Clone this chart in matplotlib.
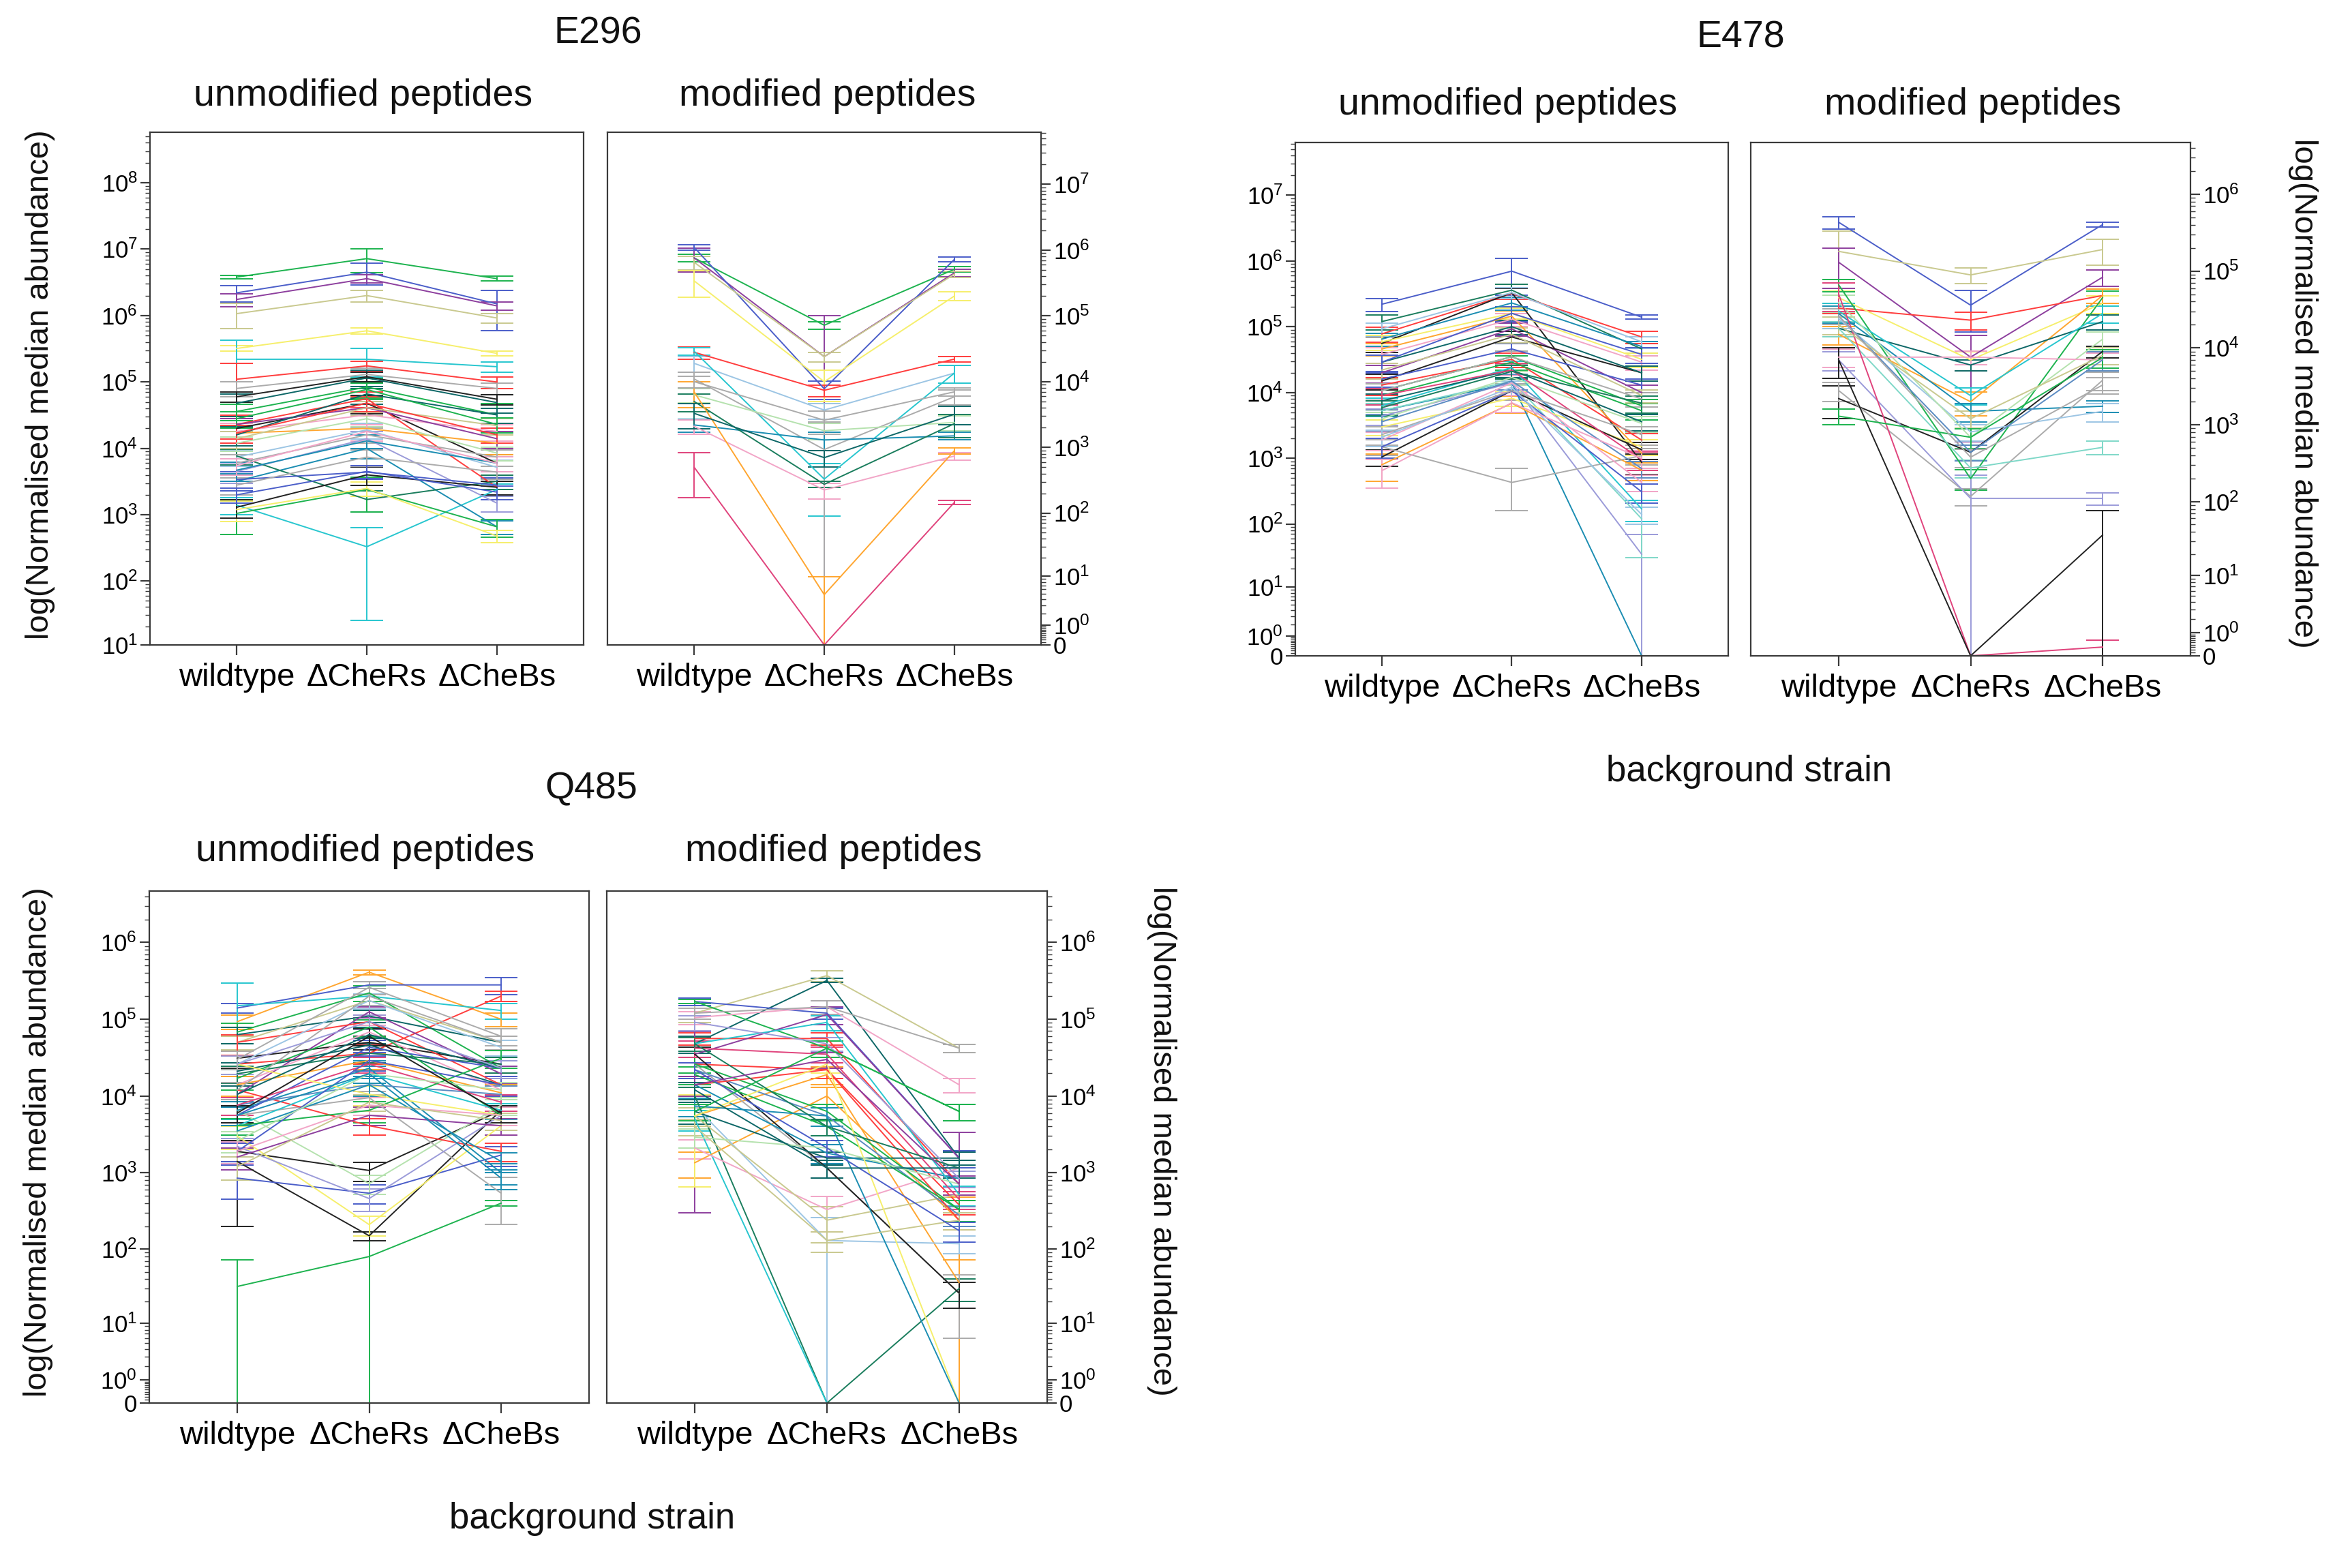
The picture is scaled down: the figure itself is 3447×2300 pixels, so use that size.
import numpy as np
import matplotlib
matplotlib.use('Agg')
import matplotlib.pyplot as plt
from matplotlib.ticker import FixedLocator, FixedFormatter, NullFormatter

plt.rcParams['font.family'] = ['Liberation Sans', 'DejaVu Sans']
plt.rcParams['mathtext.fontset'] = 'custom'
plt.rcParams['mathtext.rm'] = 'Liberation Sans'
plt.rcParams['mathtext.it'] = 'Liberation Sans:italic'
plt.rcParams['mathtext.bf'] = 'Liberation Sans:bold'

categories = ['wildtype', '\u0394CheRs', '\u0394CheBs']

palette = {
    'g': '#1db34f', 'b': '#4b5ec9', 'p': '#8d3f9e', 'o': '#c9c98f', 'y': '#f6ef6c',
    'c': '#27c6cf', 'r': '#ff3d3d', 'k': '#222222', 't': '#0d6767', 'G': '#ababab',
    'l': '#9cc5e4', 'O': '#ffa630', 'P': '#f2a5c7', 'd': '#1a7d5d', 'L': '#b5e2ae',
    'm': '#e0437c', 'T': '#1b8db2', 's': '#5b8bc2', 'v': '#9b9bd9', 'a': '#7fd8c8',
}

# ---------------- E296 unmodified ----------------
E296_unmod_col = "gbpoyccrGtgkrOPplvTdgybkGLotGTrgkbP"
E296_unmod_med = [
    (3.8e6, 7.2e6, 3.6e6), (2.2e6, 4.5e6, 1.5e6), (1.75e6, 3.6e6, 1.4e6), (1.07e6, 2.0e6, 9.2e5),
    (3.2e5, 5.9e5, 2.7e5), (2.2e5, 2.2e5, 1.7e5), (1.4e3, 330, 2.4e3), (1.1e5, 1.75e5, 1.0e5),
    (8e4, 1.3e5, 8e4), (4.8e4, 1.15e5, 4.9e4), (3.6e4, 8.4e4, 3.2e4), (2.0e4, 4.8e4, 6.0e3),
    (2.3e4, 5.6e4, 2.6e3), (1.7e4, 2.0e4, 1.2e4), (1.8e4, 3.2e4, 1.8e4), (2.3e4, 4.1e4, 1.4e4),
    (7.4e3, 1.9e4, 5.2e3), (4.5e3, 1.4e4, 1.5e3), (3.2e3, 1.0e4, 6.6e2), (7.7e3, 1.7e3, 3.2e3),
    (1.05e3, 2.4e3, 6.6e2), (1.2e3, 2.5e3, 4.8e2), (3.4e3, 4.4e3, 2.8e3), (1.3e3, 4.0e3, 2.6e3),
    (2.8e3, 7.4e3, 4.4e3), (1.2e4, 2.8e4, 8.5e3), (1.4e4, 4.1e4, 2.2e4), (1.6e4, 6.6e4, 3.2e4),
    (6e3, 1.6e4, 7.4e3), (4.7e3, 1.3e4, 6e3), (1.7e4, 4.8e4, 1.6e4), (2.8e4, 7.7e4, 2.3e4),
    (6e4, 1.2e5, 5.5e4), (2.0e3, 4.5e3, 2.2e3), (5.5e3, 1.8e4, 6e3),
]
E296_unmod_sd = [
    (2.5e5, 2.8e6, 3e5), (6e5, 1.6e6, 9e5), (4e5, 5e5, 2e5), (4.4e5, 4e5, 1.5e5),
    (3e4, 6e4, 2e4), (2.1e5, 1.0e5, 3e4), (4e2, 305, 5e2), (8e4, 3e4, 2e4),
    (2e4, 3e4, 1.5e4), (1.8e4, 3.5e4, 1.5e4), (1e4, 3e4, 1.5e4), (8e3, 1.5e4, 2e3),
    (9e3, 1.5e4, 6e2), (5e3, 4e3, 4e3), (6e3, 8e3, 5e3), (5e3, 1e4, 4e3),
    (2e3, 5e3, 1.5e3), (1.5e3, 4e3, 4e2), (9e2, 3e3, 1.5e2), (2e3, 6e2, 8e2),
    (5.5e2, 1.3e3, 2e2), (4e2, 6e2, 1e2), (1.1e3, 1e3, 8e2), (4e2, 1.2e3, 6e2),
    (8e2, 2e3, 1e3), (3e3, 7e3, 2e3), (4e3, 1e4, 6e3), (5e3, 2e4, 8e3),
    (2e3, 4e3, 2e3), (1.5e3, 3e3, 1.5e3), (5e3, 1.2e4, 4e3), (8e3, 2e4, 6e3),
    (1e4, 2e4, 1e4), (5e2, 1e3, 5e2), (1.5e3, 5e3, 1.5e3),
]

# ---------------- E296 modified ----------------
E296_mod_col = "gpboyrlcGLTdPOmGt"
E296_mod_med = [
    (7.6e5, 7.2e4, 5.1e5), (7.6e5, 2.4e4, 4.5e5), (1.1e6, 7.8e3, 7.2e5), (6.5e5, 2.4e4, 4.3e5),
    (3.4e5, 1.0e4, 2.0e5), (2.8e4, 7.4e3, 2.2e4), (1.9e4, 3.7e3, 1.35e4), (2.9e4, 330, 1.35e4),
    (1.1e4, 930, 5.9e3), (6.3e3, 1.8e3, 2.4e3), (2.2e3, 1.3e3, 1.5e3), (5e3, 275, 2.3e3),
    (2.1e3, 225, 740), (7e3, 4.8, 890), (500, 0, 145), (1.0e4, 2.6e3, 7e3),
    (3.3e3, 700, 3.2e3),
]
E296_mod_sd = [
    (1e5, 1e4, 5e4), (3e5, 7.6e4, 6e4), (1e5, 2.5e3, 6e4), (1.5e5, 4e3, 5e4),
    (1.5e5, 5e3, 3e4), (6e3, 1.5e3, 2e3), (5e3, 1e3, 4e3), (4e3, 240, 4e3),
    (3e3, 1.5e3, 1.5e3), (1.5e3, 5e2, 6e2), (5e2, 4e2, 2e2), (1.5e3, 30, 9e2),
    (5e2, 60, 1e2), (3e3, 5, 1e2), (330, 0, 10), (2e3, 1e3, 1e3),
    (1.4e3, 200, 1e3),
]

# ---------------- E478 unmodified ----------------
E478_unmod_col = "bdrkOTTlyPpkbrggctvaykOGGotLPbsmdGlbP"
E478_unmod_med = [
    (2.2e5, 7e5, 1.4e5), (1.2e5, 3.6e5, 4.6e4), (7.8e4, 3.2e5, 7e4), (5.6e4, 3.3e5, 8.7e2),
    (4.6e4, 1.45e5, 1.2e3), (6.5e4, 2.3e5, 5e4), (5.3e3, 1.4e4, 0), (9.3e4, 3.3e5, 5.9e4),
    (5.9e4, 1.6e5, 3.2e4), (3.8e4, 1.3e5, 2.9e4), (2e4, 9.3e4, 1e4), (1.5e4, 7e4, 2e4),
    (1.6e4, 4.6e4, 1.3e4), (1.3e4, 3.2e4, 1.9e3), (1.07e4, 3.5e4, 6.3e3), (9e3, 2.9e4, 5.3e3),
    (6.3e3, 2.4e4, 170), (7.5e3, 2.2e4, 3.6e3), (4.4e3, 1.4e4, 34), (5.3e3, 1.5e4, 120),
    (3e3, 8.2e3, 1.5e3), (1.05e3, 1.07e4, 1.35e3), (800, 6.9e3, 660), (1.5e3, 430, 1.1e3),
    (1.07e4, 3.5e4, 8e3), (2.2e4, 7.7e4, 9e3), (2.9e4, 1.0e5, 2e4), (4e3, 1.7e4, 3.4e3),
    (1.9e3, 1.4e4, 430), (1.5e3, 1.07e4, 310), (3.6e3, 1.5e4, 700), (9e3, 2.2e4, 950),
    (5.9e3, 2.1e4, 6.9e3), (2.3e3, 1.07e4, 2.3e3), (2.1e3, 1.2e4, 140), (2.9e4, 1.6e5, 3.8e4),
    (650, 7e3, 1.0e3),
]
E478_unmod_sd = [
    (5e4, 4e5, 1e4), (3e4, 8e4, 1e4), (2e4, 6e4, 1.5e4), (1.5e4, 5e4, 3e2),
    (1e4, 3e4, 4e2), (1.5e4, 5e4, 1e4), (1.5e3, 4e3, 0), (2e4, 6e4, 1.2e4),
    (1.5e4, 3e4, 8e3), (1e4, 3e4, 7e3), (6e3, 2e4, 3e3), (4e3, 1.5e4, 5e3),
    (4e3, 1e4, 3e3), (4e3, 8e3, 5e2), (3e3, 8e3, 1.5e3), (2.5e3, 7e3, 1.5e3),
    (2e3, 6e3, 60), (2e3, 5e3, 1e3), (1.2e3, 4e3, 34), (1.5e3, 4e3, 90),
    (8e2, 2e3, 4e2), (3e2, 3e3, 4e2), (350, 2e3, 200), (4e2, 270, 3e2),
    (3e3, 8e3, 2e3), (6e3, 2e4, 2e3), (8e3, 2.5e4, 5e3), (1e3, 4e3, 9e2),
    (6e2, 4e3, 120), (5e2, 3e3, 100), (1e3, 4e3, 200), (2.5e3, 6e3, 300),
    (1.5e3, 5e3, 2e3), (7e2, 3e3, 7e2), (6e2, 3e3, 40), (8e3, 4e4, 1e4),
    (300, 2e3, 300),
]

# ---------------- E478 modified ----------------
E478_mod_col = "boprygOtcTkGvlLaPmksogG"
E478_mod_med = [
    (4.3e5, 3.6e4, 4e5), (1.8e5, 8.9e4, 1.9e5), (1.3e5, 7.6e3, 8.3e4), (3.3e4, 2.3e4, 4.8e4),
    (4.5e4, 7e3, 3.8e4), (6.6e4, 200, 4.5e4), (1.5e4, 2e3, 4.8e4), (1.8e4, 6e3, 2.2e4),
    (3e4, 2.4e3, 2.8e4), (2.8e4, 1.5e3, 1.75e3), (2.2e3, 440, 9e3), (2.8e3, 117, 3.8e3),
    (7e3, 110, 110), (2.4e4, 810, 1.5e3), (3.9e4, 690, 1.3e4), (1.8e4, 275, 510),
    (7.6e3, 7.6e3, 7e3), (5e4, 0, 0.3), (7e3, 0, 36), (2.6e4, 440, 7e3),
    (2e4, 1.2e3, 8e3), (1.3e3, 690, 7.5e3), (2.6e4, 380, 3.3e3),
]
E478_mod_sd = [
    (8e4, 2e4, 3e4), (1.5e5, 2e4, 7e4), (7e4, 7e3, 2e4), (5e3, 6e3, 1e4),
    (1e4, 2e3, 1e4), (1.2e4, 60, 1e4), (4e3, 7e2, 1e4), (4e3, 1e3, 5e3),
    (8e3, 6e2, 7e3), (7e3, 4e2, 3e2), (1e3, 100, 1.5e3), (8e2, 30, 1e3),
    (2e3, 110, 20), (6e3, 200, 400), (1e4, 200, 3e3), (4e3, 70, 100),
    (2e3, 1.5e3, 1.5e3), (2e4, 0, 0.3), (3e3, 0, 40), (6e3, 100, 2e3),
    (5e3, 3e2, 2e3), (300, 200, 2e3), (6e3, 100, 800),
]

# ---------------- Q485 unmodified ----------------
Q485_unmod_col = "Obrgcgtkkk" + "GbyvLrTpPo" + "tgOrlsdGbc" + "myTgbptLPo" + "TvGk"
Q485_unmod_med = [
    (9.3e4, 4.1e5, 1e5), (1.4e5, 2.8e5, 2.8e5), (2.6e4, 3.6e4, 2e5), (32, 80, 400),
    (1.5e5, 2e5, 1.3e5), (6.8e4, 2.2e5, 2.3e4), (6.3e4, 1.1e5, 5e4), (3.1e4, 5e4, 2.6e4),
    (1.9e3, 1.07e3, 6.5e3), (1.4e3, 150, 6.5e3),
    (5.6e3, 9.5e3, 540), (850, 540, 1.7e3), (3e3, 210, 4.1e3), (2.2e3, 460, 5.6e3),
    (6.5e3, 720, 7.6e3), (1.2e4, 4.1e3, 1.9e3), (6.5e3, 2.3e4, 1e3), (1.05e4, 1.25e5, 1.95e4),
    (1.4e4, 6.8e4, 1.2e4), (5e4, 1.75e5, 5e4),
    (2.1e4, 4.6e4, 1.4e4), (1.7e4, 7.9e4, 5.6e3), (1.4e4, 2.9e4, 1.1e4), (5e4, 9.3e4, 1.4e4),
    (2.6e4, 1.75e5, 4.3e4), (7.6e3, 1.4e4, 1.05e4), (1.95e4, 3.6e4, 2.6e4), (1.2e4, 2e5, 5e4),
    (5.6e3, 4.3e4, 2.3e4), (4.1e3, 1.95e4, 6.5e3),
    (7.6e3, 2.6e4, 8.3e3), (2.6e4, 1.05e4, 5.6e3), (3.5e3, 1.4e4, 1.4e3), (4.1e3, 6.5e3, 3.1e4),
    (1.9e3, 2.9e4, 1.4e4), (1.6e3, 5.6e3, 4.1e3), (1.05e4, 6.3e4, 2.3e4), (2.6e3, 1.95e4, 1.2e4),
    (1.9e3, 7.6e3, 5.6e3), (1.2e3, 8.3e3, 4.8e3),
    (5.6e3, 1.95e4, 850), (2.6e4, 9.3e4, 2.3e4), (3e4, 2.6e5, 6e4), (6e3, 6e4, 6e3),
]
Q485_unmod_sd = [
    (2e4, 3e4, 2e4), (2e4, 3e4, 7e4), (8e3, 1e4, 3e4), (40, 90, 30),
    (1.45e5, 5e4, 3e4), (2e4, 5e4, 6e3), (1.5e4, 2e4, 1e4), (8e3, 1e4, 6e3),
    (5e2, 3e2, 1.5e3), (1.2e3, 20, 1.5e3),
    (1.5e3, 2e3, 330), (400, 150, 500), (1e3, 60, 1e3), (6e2, 150, 1.5e3),
    (2e3, 200, 2e3), (3e3, 1e3, 5e2), (2e3, 6e3, 3e2), (3e3, 2e4, 5e3),
    (4e3, 1.5e4, 3e3), (1e4, 4e4, 1e4),
    (6e3, 1e4, 4e3), (5e3, 2e4, 1.5e3), (4e3, 7e3, 3e3), (1.2e4, 2e4, 4e3),
    (7e3, 4e4, 1e4), (2e3, 4e3, 3e3), (5e3, 9e3, 6e3), (3e3, 5e4, 1e4),
    (1.5e3, 1e4, 6e3), (1e3, 5e3, 1.5e3),
    (2e3, 6e3, 2e3), (7e3, 3e3, 1.5e3), (1e3, 4e3, 4e2), (1e3, 2e3, 8e3),
    (5e2, 8e3, 4e3), (5e2, 1.5e3, 1e3), (3e3, 1.5e4, 6e3), (8e2, 5e3, 3e3),
    (6e2, 2e3, 1.5e3), (4e2, 2e3, 1.2e3),
    (1.5e3, 5e3, 250), (7e3, 2e4, 6e3), (8e3, 5e4, 1.5e4), (1.5e3, 1.5e4, 1.5e3),
]

# ---------------- Q485 modified ----------------
Q485_mod_col = "otdcbgPrpr" + "OOPloGktgT" + "csrmvgyToL" + "bdpgtG"
Q485_mod_med = [
    (1.2e5, 3.7e5, 4.2e4), (4.8e4, 3.2e5, 1.55e3), (1.0e4, 0, 30), (5e3, 0, 0),
    (1.7e5, 1.2e5, 1.55e3), (1.7e5, 4.2e4, 6.3e3), (1.05e5, 1.45e5, 1.4e4), (5.6e4, 5.6e4, 710),
    (3.5e4, 1.15e5, 1.55e3), (2.6e4, 2.2e4, 380),
    (1.35e3, 1e4, 240), (5.5e3, 1.9e4, 36), (2.1e3, 330, 1.15e3), (7.4e3, 130, 118),
    (5.5e3, 240, 520), (2.6e4, 1.15e3, 26), (3.5e4, 1.15e3, 26), (6.3e3, 1.55e3, 1.55e3),
    (2.6e4, 6.3e3, 330), (1.4e4, 1.8e3, 840),
    (4.8e4, 9.1e4, 520), (2.2e4, 5.5e3, 280), (1.4e4, 2.2e4, 240), (4.2e4, 3.5e4, 450),
    (9.1e4, 4.8e4, 840), (1.9e4, 4e3, 330), (5.5e3, 2.6e4, 0), (7.4e3, 5.5e3, 0),
    (4e3, 130, 240), (2.9e3, 2.1e3, 710),
    (2.2e4, 2.1e3, 175), (4.8e4, 4e3, 1.15e3), (1.4e4, 3e4, 710), (6.3e3, 4.2e4, 6.3e3),
    (1.2e4, 1.15e3, 1.15e3), (1.2e5, 1.45e5, 4.2e4),
]
Q485_mod_sd = [
    (3e4, 6e4, 5e3), (1.2e4, 2e4, 4e2), (3e3, 0, 10), (1.5e3, 0, 0),
    (2e4, 2e4, 4e2), (1e4, 1e4, 1.5e3), (2e4, 3e4, 3e3), (1e4, 1e4, 200),
    (3.47e4, 3e4, 1.8e3), (6e3, 5e3, 100),
    (5e2, 3e3, 240), (1.5e3, 5e3, 36), (6e2, 160, 300), (2e3, 130, 30),
    (1.5e3, 120, 150), (6e3, 300, 20), (8e3, 300, 10), (2e3, 300, 300),
    (6e3, 1.5e3, 100), (4e3, 500, 200),
    (1e4, 2e4, 150), (5e3, 1.5e3, 80), (4e3, 5e3, 60), (1e4, 8e3, 120),
    (2e4, 1e4, 200), (5e3, 1e3, 100), (4.85e3, 6e3, 0), (2e3, 1.5e3, 0),
    (1e3, 40, 60), (8e2, 500, 200),
    (5e3, 500, 50), (1e4, 1e3, 300), (4e3, 7e3, 200), (1.5e3, 1e4, 1.5e3),
    (3e3, 300, 300), (2e4, 3e4, 5e3),
]

# ---------------- figure ----------------
W, H = 3448, 2300
fig = plt.figure(figsize=(W / 100, H / 100), dpi=100)

LW = 1.4
CAP = 17
SPINE = '#3a3a3a'


def fwd(y):
    return np.log10(np.maximum(np.asarray(y, float), 0) + 1)


def inv(x):
    return 10 ** np.asarray(x, float) - 1


def make_ax(l, r, t, b):
    return fig.add_axes([l / W, 1 - b / H, (r - l) / W, (b - t) / H])


def draw(ax, med, sd, cols, ymin, top_exp, side, zero_axis):
    x = np.arange(3)
    for m, s, c in zip(med, sd, cols):
        m = np.array(m, float)
        s = np.array(s, float)
        lo = np.minimum(s, m)
        ax.errorbar(x, m, yerr=[lo, s], color=palette[c], lw=LW, elinewidth=LW,
                    capsize=CAP, capthick=LW, clip_on=True)
    ax.set_yscale('function', functions=(fwd, inv))
    ax.set_xlim(-2 / 3, 2 + 2 / 3)
    ax.set_ylim(ymin, 10 ** top_exp - 1)
    ax.set_xticks(x)
    ax.set_xticklabels(categories, fontsize=34)
    top_int = int(np.floor(top_exp))
    if zero_axis:
        majors = [0] + [10 ** k for k in range(0, top_int + 1)]
        labels = ['0'] + [r'$\mathregular{10^{%d}}$' % k for k in range(0, top_int + 1)]
        minors = [0.1 * i for i in range(1, 10)]
        kstart = 0
    else:
        majors = [10 ** k for k in range(1, top_int + 1)]
        labels = [r'$\mathregular{10^{%d}}$' % k for k in range(1, top_int + 1)]
        minors = []
        kstart = 1
    for k in range(kstart, top_int + 1):
        for j in range(2, 10):
            v = j * 10 ** k
            if fwd(v) < top_exp:
                minors.append(v)
    ax.yaxis.set_major_locator(FixedLocator(majors))
    ax.yaxis.set_major_formatter(FixedFormatter(labels))
    ax.yaxis.set_minor_locator(FixedLocator(minors))
    ax.yaxis.set_minor_formatter(NullFormatter())
    if side == 'right':
        ax.yaxis.tick_right()
    ax.tick_params(axis='y', which='major', labelsize=25, length=10, width=1.6,
                   color=SPINE, pad=3)
    ax.tick_params(axis='y', which='minor', length=5, width=1.0, color=SPINE)
    ax.tick_params(axis='x', which='major', length=11, width=1.6, color=SPINE, pad=8)
    for sp in ax.spines.values():
        sp.set_color(SPINE)
        sp.set_linewidth(1.6)


ax1 = make_ax(220, 856, 194, 946)
draw(ax1, E296_unmod_med, E296_unmod_sd, E296_unmod_col, 10, 8.76, 'left', False)
ax2 = make_ax(891, 1527, 194, 946)
draw(ax2, E296_mod_med, E296_mod_sd, E296_mod_col, 0, 7.79, 'right', True)
ax3 = make_ax(1900, 2535, 209, 962)
draw(ax3, E478_unmod_med, E478_unmod_sd, E478_unmod_col, 0, 7.8, 'left', True)
ax4 = make_ax(2568, 3213, 209, 962)
draw(ax4, E478_mod_med, E478_mod_sd, E478_mod_col, 0, 6.67, 'right', True)
ax5 = make_ax(219, 864, 1307, 2058)
draw(ax5, Q485_unmod_med, Q485_unmod_sd, Q485_unmod_col, 0, 6.67, 'left', True)
ax6 = make_ax(890, 1536, 1307, 2058)
draw(ax6, Q485_mod_med, Q485_mod_sd, Q485_mod_col, 0, 6.67, 'right', True)


def ftext(x, y, s, size, rot=0):
    fig.text(x / W, 1 - y / H, s, fontsize=size, ha='center', va='center',
             rotation=rot, color='#111111')


ftext(877, 50, 'E296', 40)
ftext(533, 141, 'unmodified peptides', 40)
ftext(1214, 141, 'modified peptides', 40)
ftext(2553, 56, 'E478', 40)
ftext(2212, 154, 'unmodified peptides', 40)
ftext(2894, 154, 'modified peptides', 40)
ftext(867, 1157, 'Q485', 40)
ftext(536, 1249, 'unmodified peptides', 40)
ftext(1223, 1249, 'modified peptides', 40)

ylab = 'log(Normalised median abundance)'
ftext(59, 564, ylab, 34, 90)
ftext(56, 1675, ylab, 34, 90)
ftext(3378, 577, ylab, 34, -90)
ftext(1704, 1674, ylab, 34, -90)
ftext(2566, 1132, 'background strain', 38)
ftext(869, 2228, 'background strain', 38)

fig.savefig('out.png', dpi=100, facecolor='white')
